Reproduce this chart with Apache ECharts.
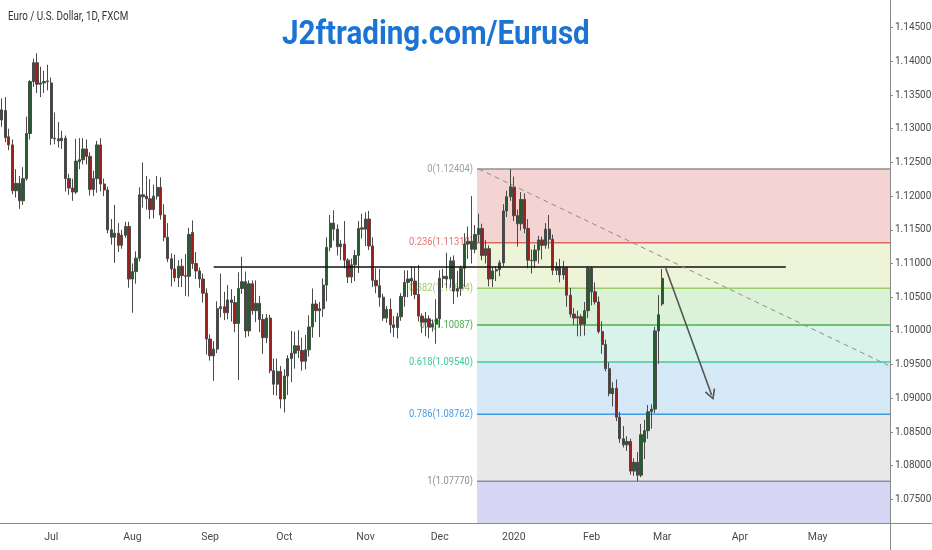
<!DOCTYPE html>
<html>
<head>
<meta charset="utf-8">
<title>Euro / U.S. Dollar, 1D</title>
<script src="https://cdn.jsdelivr.net/npm/echarts@6/dist/echarts.min.js"></script>
<style>
    html, body { margin: 0; padding: 0; background: #fff; }
    #chart { width: 932px; height: 550px; }
</style>
</head>
<body>
<div id="chart"></div>
<script>
// trading days: weekdays from 2019-06-11, FXCM has no bar on these two days
var firstDay = '2019-06-11';
var dayCount = 252;
var holidays = ['2019-12-25', '2020-01-01'];
var monthNames = ['Jan', 'Feb', 'Mar', 'Apr', 'May', 'Jun', 'Jul', 'Aug', 'Sep', 'Oct', 'Nov', 'Dec'];

// daily bars [open, close, low, high]
var candles = [
    // Jun
    [1.1313, 1.1328, 1.1303, 1.1345], [1.1327, 1.1287, 1.1280, 1.1347], [1.1288, 1.1276, 1.1268, 1.1300],
    [1.1276, 1.1208, 1.1203, 1.1284], [1.1208, 1.1219, 1.1198, 1.1240], [1.1219, 1.1193, 1.1181, 1.1230],
    [1.1193, 1.1226, 1.1187, 1.1243], [1.1226, 1.1293, 1.1223, 1.1318], [1.1293, 1.1370, 1.1284, 1.1372],
    [1.1370, 1.1398, 1.1362, 1.1404], [1.1398, 1.1366, 1.1353, 1.1412], [1.1366, 1.1368, 1.1347, 1.1392],
    [1.1368, 1.1370, 1.1353, 1.1386], [1.1370, 1.1371, 1.1357, 1.1395],
    // Jul
    [1.1368, 1.1286, 1.1276, 1.1376], [1.1286, 1.1285, 1.1277, 1.1324], [1.1285, 1.1282, 1.1272, 1.1310],
    [1.1282, 1.1286, 1.1270, 1.1297], [1.1286, 1.1226, 1.1207, 1.1290], [1.1226, 1.1212, 1.1202, 1.1233],
    [1.1212, 1.1206, 1.1193, 1.1226], [1.1206, 1.1252, 1.1203, 1.1285], [1.1251, 1.1254, 1.1240, 1.1286],
    [1.1254, 1.1270, 1.1247, 1.1286], [1.1270, 1.1259, 1.1247, 1.1284], [1.1259, 1.1210, 1.1201, 1.1265],
    [1.1210, 1.1226, 1.1200, 1.1238], [1.1226, 1.1276, 1.1205, 1.1282], [1.1276, 1.1218, 1.1207, 1.1286],
    [1.1218, 1.1209, 1.1200, 1.1226], [1.1209, 1.1150, 1.1145, 1.1214], [1.1150, 1.1139, 1.1128, 1.1166],
    [1.1139, 1.1145, 1.1101, 1.1187], [1.1145, 1.1127, 1.1117, 1.1160], [1.1127, 1.1142, 1.1122, 1.1150],
    [1.1142, 1.1155, 1.1138, 1.1162], [1.1155, 1.1077, 1.1064, 1.1162],
    // Aug
    [1.1077, 1.1088, 1.1027, 1.1100], [1.1088, 1.1108, 1.1070, 1.1118], [1.1108, 1.1202, 1.1103, 1.1213],
    [1.1202, 1.1199, 1.1183, 1.1250], [1.1200, 1.1196, 1.1180, 1.1230], [1.1196, 1.1180, 1.1166, 1.1225],
    [1.1180, 1.1200, 1.1167, 1.1217], [1.1200, 1.1213, 1.1195, 1.1230], [1.1213, 1.1172, 1.1165, 1.1228],
    [1.1172, 1.1139, 1.1133, 1.1188], [1.1139, 1.1107, 1.1102, 1.1160], [1.1107, 1.1092, 1.1066, 1.1115],
    [1.1092, 1.1079, 1.1073, 1.1113], [1.1079, 1.1096, 1.1065, 1.1105], [1.1096, 1.1082, 1.1065, 1.1107],
    [1.1082, 1.1081, 1.1052, 1.1114], [1.1081, 1.1143, 1.1051, 1.1153], [1.1146, 1.1100, 1.1092, 1.1164],
    [1.1100, 1.1089, 1.1077, 1.1117], [1.1089, 1.1077, 1.1064, 1.1094], [1.1077, 1.1056, 1.1042, 1.1085],
    [1.1056, 1.0988, 1.0965, 1.1063],
    // Sep
    [1.0988, 1.0963, 1.0956, 1.0995], [1.0963, 1.0973, 1.0926, 1.0985], [1.0973, 1.1033, 1.0967, 1.1044],
    [1.1033, 1.1036, 1.1020, 1.1085], [1.1036, 1.1027, 1.1016, 1.1058], [1.1027, 1.1046, 1.1017, 1.1068],
    [1.1046, 1.1042, 1.1014, 1.1062], [1.1042, 1.1011, 1.0998, 1.1052], [1.1011, 1.1063, 1.0927, 1.1087],
    [1.1063, 1.1073, 1.1055, 1.1110], [1.1073, 1.1000, 1.0990, 1.1088], [1.1000, 1.1070, 1.0992, 1.1075],
    [1.1070, 1.1030, 1.1024, 1.1075], [1.1030, 1.1041, 1.1013, 1.1075], [1.1041, 1.1017, 1.0998, 1.1052],
    [1.1017, 1.0990, 1.0966, 1.1025], [1.0990, 1.1019, 1.0982, 1.1025], [1.1019, 1.0941, 1.0937, 1.1024],
    [1.0941, 1.0921, 1.0905, 1.0959], [1.0921, 1.0940, 1.0904, 1.0959], [1.0940, 1.0899, 1.0885, 1.0948],
    // Oct
    [1.0899, 1.0933, 1.0879, 1.0943], [1.0933, 1.0959, 1.0905, 1.0964], [1.0959, 1.0967, 1.0924, 1.1000],
    [1.0967, 1.0978, 1.0944, 1.0999], [1.0978, 1.0971, 1.0960, 1.1001], [1.0971, 1.0955, 1.0941, 1.0990],
    [1.0955, 1.0972, 1.0943, 1.0994], [1.0972, 1.1006, 1.0962, 1.1023], [1.1006, 1.1040, 1.0990, 1.1063],
    [1.1040, 1.1030, 1.1013, 1.1046], [1.1030, 1.1033, 1.0991, 1.1043], [1.1033, 1.1068, 1.1021, 1.1078],
    [1.1068, 1.1124, 1.1044, 1.1139], [1.1124, 1.1160, 1.1118, 1.1172], [1.1160, 1.1151, 1.1134, 1.1179],
    [1.1151, 1.1125, 1.1112, 1.1158], [1.1125, 1.1129, 1.1105, 1.1135], [1.1129, 1.1105, 1.1093, 1.1163],
    [1.1105, 1.1080, 1.1071, 1.1108], [1.1080, 1.1098, 1.1071, 1.1107], [1.1098, 1.1112, 1.1074, 1.1120],
    [1.1112, 1.1152, 1.1086, 1.1163], [1.1153, 1.1151, 1.1137, 1.1174],
    // Nov
    [1.1151, 1.1166, 1.1126, 1.1176], [1.1166, 1.1126, 1.1120, 1.1178], [1.1126, 1.1075, 1.1065, 1.1139],
    [1.1075, 1.1067, 1.1056, 1.1093], [1.1067, 1.1050, 1.1036, 1.1092], [1.1050, 1.1019, 1.1015, 1.1055],
    [1.1019, 1.1032, 1.1012, 1.1037], [1.1032, 1.1009, 1.0997, 1.1048], [1.1009, 1.1005, 1.0991, 1.1022],
    [1.1005, 1.1021, 1.0989, 1.1027], [1.1021, 1.1051, 1.1015, 1.1056], [1.1051, 1.1072, 1.1036, 1.1090],
    [1.1072, 1.1077, 1.1050, 1.1090], [1.1078, 1.1074, 1.1052, 1.1096], [1.1074, 1.1054, 1.1047, 1.1095],
    [1.1054, 1.1022, 1.1014, 1.1098], [1.1022, 1.1013, 1.0997, 1.1026], [1.1013, 1.1018, 1.0992, 1.1028],
    [1.1018, 1.1006, 1.0989, 1.1023], [1.1006, 1.1010, 1.0999, 1.1017], [1.1010, 1.1018, 1.0981, 1.1047],
    // Dec
    [1.1018, 1.1078, 1.1005, 1.1090], [1.1078, 1.1081, 1.1064, 1.1092], [1.1081, 1.1077, 1.1064, 1.1116],
    [1.1077, 1.1104, 1.1064, 1.1110], [1.1104, 1.1059, 1.1040, 1.1112], [1.1059, 1.1063, 1.1050, 1.1089],
    [1.1063, 1.1093, 1.1052, 1.1097], [1.1093, 1.1129, 1.1065, 1.1145], [1.1129, 1.1133, 1.1107, 1.1155],
    [1.1133, 1.1121, 1.1100, 1.1200], [1.1121, 1.1143, 1.1115, 1.1157], [1.1143, 1.1152, 1.1132, 1.1174],
    [1.1152, 1.1112, 1.1105, 1.1159], [1.1112, 1.1122, 1.1100, 1.1135], [1.1122, 1.1077, 1.1066, 1.1127],
    [1.1077, 1.1089, 1.1065, 1.1095], [1.1089, 1.1091, 1.1074, 1.1096], [1.1091, 1.1101, 1.1081, 1.1105],
    [1.1101, 1.1178, 1.1096, 1.1188], [1.1178, 1.1199, 1.1169, 1.1208], [1.1199, 1.1214, 1.1193, 1.12404],
    // Jan
    [1.1213, 1.1171, 1.1163, 1.1229], [1.1171, 1.1159, 1.1125, 1.1180], [1.1159, 1.1195, 1.1149, 1.1206],
    [1.1195, 1.1152, 1.1145, 1.1204], [1.1152, 1.1105, 1.1093, 1.1166], [1.1105, 1.1104, 1.1085, 1.1121],
    [1.1104, 1.1120, 1.1093, 1.1128], [1.1120, 1.1135, 1.1100, 1.1141], [1.1135, 1.1127, 1.1106, 1.1140],
    [1.1127, 1.1151, 1.1122, 1.1160], [1.1151, 1.1136, 1.1122, 1.1172], [1.1136, 1.1090, 1.1083, 1.1143],
    [1.1090, 1.1095, 1.1083, 1.1102], [1.1095, 1.1083, 1.1072, 1.1107], [1.1083, 1.1094, 1.1076, 1.1104],
    [1.1094, 1.1053, 1.1036, 1.1096], [1.1053, 1.1025, 1.1020, 1.1064], [1.1025, 1.1019, 1.1009, 1.1034],
    [1.1019, 1.1021, 1.0992, 1.1030], [1.1021, 1.1010, 1.0992, 1.1025], [1.1010, 1.1030, 1.0993, 1.1043],
    [1.1030, 1.1093, 1.1019, 1.1096],
    // Feb
    [1.1093, 1.1058, 1.1038, 1.1096], [1.1058, 1.1043, 1.1039, 1.1072], [1.1043, 1.0999, 1.0996, 1.1051],
    [1.0999, 1.0980, 1.0966, 1.1014], [1.0980, 1.0944, 1.0940, 1.0987], [1.0944, 1.0907, 1.0903, 1.0953],
    [1.0907, 1.0915, 1.0888, 1.0924], [1.0915, 1.0872, 1.0866, 1.0928], [1.0872, 1.0840, 1.0834, 1.0880],
    [1.0840, 1.0831, 1.0827, 1.0859], [1.0831, 1.0836, 1.0822, 1.0844], [1.0836, 1.0792, 1.0787, 1.0840],
    [1.0792, 1.0805, 1.0785, 1.0811], [1.0805, 1.0786, 1.0777, 1.0820], [1.0786, 1.0846, 1.0783, 1.0862],
    [1.0835, 1.0852, 1.0810, 1.0868], [1.0852, 1.0880, 1.0840, 1.0890], [1.0880, 1.0884, 1.0855, 1.0891],
    [1.0884, 1.1000, 1.0878, 1.1006], [1.1000, 1.1024, 1.0951, 1.1053],
    // Mar
    [1.1040, 1.1078, 1.1037, 1.1092]
];

// fibonacci retracement drawn from 1.12404 down to 1.07770
var fibStart = '2019-12-17';
var fibRatios = ['0', '0.236', '0.382', '0.5', '0.618', '0.786', '1'];
var fibPrices = [1.12404, 1.11310, 1.10634, 1.10087, 1.09540, 1.08762, 1.07770];

// hand drawn lines
var resistance = { from: '2019-09-03', to: '2020-04-20', price: 1.1095 };
var trendLine = { from: '2019-12-17', fromPrice: 1.12404, to: '2020-05-29', toPrice: 1.0949 };
var arrowLine = { from: '2020-03-03', fromPrice: 1.1093, to: '2020-03-20', toPrice: 1.0905 };

var yMin = 1.0715, yMax = 1.1491;

var zoneColors = ['#f4d4d3', '#eef4d8', '#dbf2d8', '#d8f3ea', '#d5e8f5', '#e8e8e8', '#d7d7f5'];
var lineColors = ['#9a8c8c', '#e06666', '#9ccc65', '#4caf50', '#45c8a0', '#3d9be0', '#8e8e9a'];
var labelColors = ['#9e9e9e', '#e57373', '#9ccc65', '#4caf50', '#3ec79a', '#4a9be0', '#8f8f8f'];

var uiFont = "Roboto, sans-serif";

var dates = [];
var day = new Date(firstDay + 'T00:00:00Z');
while (dates.length < dayCount) {
    var s = day.toISOString().slice(0, 10);
    var wd = day.getUTCDay();
    if (wd !== 0 && wd !== 6 && holidays.indexOf(s) < 0) {
        dates.push(s);
    }
    day.setUTCDate(day.getUTCDate() + 1);
}

function isMonthStart(i) {
    return i > 0 && dates[i].slice(5, 7) !== dates[i - 1].slice(5, 7);
}

var fibIndex = dates.indexOf(fibStart);
var fibZones = [];
for (var i = 0; i < fibPrices.length; i++) {
    fibZones.push([fibIndex, fibPrices[i], i + 1 < fibPrices.length ? fibPrices[i + 1] : yMin, i]);
}

function renderFib(params, api) {
    var k = api.value(3);
    var p1 = api.coord([api.value(0), api.value(1)]);
    var p2 = api.coord([api.value(0), api.value(2)]);
    var right = params.coordSys.x + params.coordSys.width;
    var left = p1[0] - 1.5;
    return {
        type: 'group',
        children: [
            { type: 'rect', shape: { x: left, y: p1[1], width: right - left, height: p2[1] - p1[1] },
              style: { fill: zoneColors[k] } },
            { type: 'line', shape: { x1: left, y1: p1[1], x2: right, y2: p1[1] },
              style: { stroke: lineColors[k], lineWidth: 1.5 } },
            { type: 'text', x: left - 4, y: p1[1], scaleX: 0.85, style: {
                text: fibRatios[k] + '(' + fibPrices[k].toFixed(5) + ')',
                x: 0, y: 0, align: 'right', verticalAlign: 'middle',
                fill: labelColors[k], fontSize: 11, fontFamily: uiFont } }
        ]
    };
}

var myChart = echarts.init(document.getElementById('chart'), null, { width: 932, height: 550 });
var option = {
    animation: false,
    backgroundColor: '#fff',
    grid: { left: 0, right: 42, top: 0, bottom: 27, outerBoundsMode: 'none' },
    xAxis: {
        type: 'category',
        data: dates,
        boundaryGap: true,
        axisLine: { lineStyle: { color: '#8a8a8a' } },
        axisTick: {
            interval: function (index) { return isMonthStart(index); },
            alignWithLabel: true, length: 4, lineStyle: { color: '#8a8a8a' }
        },
        axisLabel: {
            interval: function (index) { return isMonthStart(index); },
            formatter: function (value) {
                var m = +value.slice(5, 7);
                return m === 1 ? value.slice(0, 4) : monthNames[m - 1];
            },
            color: '#4a4a4a', fontSize: 10.5, margin: 9, fontFamily: uiFont
        },
        splitLine: { show: false }
    },
    yAxis: {
        type: 'value',
        position: 'right',
        min: yMin, max: yMax,
        splitNumber: 15,
        scale: true,
        axisLine: { show: true, lineStyle: { color: '#8a8a8a' } },
        axisTick: { show: true, length: 3, lineStyle: { color: '#8a8a8a' } },
        axisLabel: {
            showMinLabel: false, showMaxLabel: false,
            formatter: function (v) { return v.toFixed(5); },
            color: '#4a4a4a', fontSize: 10, margin: 5, fontFamily: uiFont
        },
        splitLine: { show: false }
    },
    series: [
        {
            name: 'fib',
            type: 'custom',
            renderItem: renderFib,
            data: fibZones,
            encode: { x: 0, y: 1 },
            silent: true,
            z: 1
        },
        {
            name: 'EURUSD',
            type: 'candlestick',
            data: candles,
            barWidth: 2.8,
            itemStyle: {
                color: '#235f2a',
                color0: '#9c1f1c',
                borderColor: '#4a4a4a',
                borderColor0: '#4a4a4a',
                borderWidth: 1
            },
            z: 2,
            markLine: {
                silent: true,
                animation: false,
                label: { show: false },
                symbol: ['none', 'none'],
                data: [
                    [
                        { coord: [resistance.from, resistance.price], lineStyle: { color: '#111', width: 1.5, type: 'solid' } },
                        { coord: [resistance.to, resistance.price] }
                    ],
                    [
                        { coord: [trendLine.from, trendLine.fromPrice], lineStyle: { color: '#8c8c8c', width: 1, type: [5, 4] } },
                        { coord: [trendLine.to, trendLine.toPrice] }
                    ],
                    [
                        { coord: [arrowLine.from, arrowLine.fromPrice], symbol: 'none',
                          lineStyle: { color: '#555', width: 1.6, type: 'solid' } },
                        { coord: [arrowLine.to, arrowLine.toPrice],
                          symbol: 'path://M5,0 L10,9 L8.8,10 L5,3 L1.2,10 L0,9 Z', symbolSize: [11, 11] }
                    ]
                ]
            }
        }
    ],
    graphic: [
        { type: 'text', x: 8, y: 11, scaleX: 0.82,
          style: { text: 'Euro / U.S. Dollar, 1D, FXCM', fontSize: 12, fill: '#333', fontFamily: uiFont } },
        { type: 'text', x: 282, y: 18, scaleX: 0.87,
          style: { text: 'J2ftrading.com/Eurusd', fontSize: 34, fontWeight: 'bold', fill: '#1b74d3', fontFamily: uiFont } },
        { type: 'line', shape: { x1: 890, y1: 523.5, x2: 932, y2: 523.5 }, style: { stroke: '#8a8a8a', lineWidth: 1 } },
        { type: 'line', shape: { x1: 890.5, y1: 523, x2: 890.5, y2: 550 }, style: { stroke: '#8a8a8a', lineWidth: 1 } }
    ]
};
myChart.setOption(option);
</script>
</body>
</html>
